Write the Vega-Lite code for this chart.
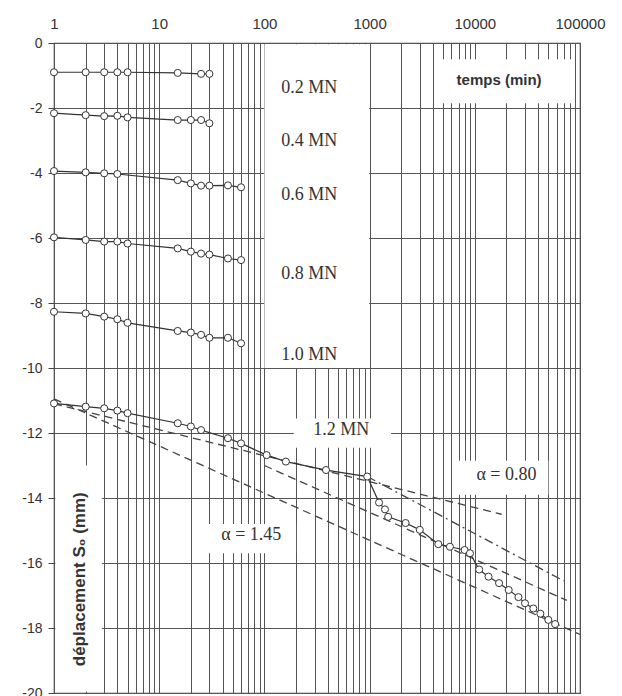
{
  "$schema": "https://vega.github.io/schema/vega-lite/v6.json",
  "width": 526,
  "height": 650,
  "autosize": {"type": "none"},
  "padding": {"left": 54, "top": 43, "right": 42, "bottom": 3},
  "background": "white",
  "config": {
    "view": {"stroke": "#444", "strokeWidth": 1.2},
    "axis": {"labelFont": "Liberation Sans", "labelColor": "#333", "labelFontSize": 14, "gridColor": "#555", "gridWidth": 1, "gridOpacity": 1, "domain": false}
  },
  "datasets": {
    "creep": [
      {"load": "0.2", "t": 1, "s": -0.9}, {"load": "0.2", "t": 2, "s": -0.9}, {"load": "0.2", "t": 3, "s": -0.9}, {"load": "0.2", "t": 4, "s": -0.9}, {"load": "0.2", "t": 5, "s": -0.9},
      {"load": "0.2", "t": 15, "s": -0.92}, {"load": "0.2", "t": 25, "s": -0.95}, {"load": "0.2", "t": 30, "s": -0.95},
      {"load": "0.4", "t": 1, "s": -2.16}, {"load": "0.4", "t": 2, "s": -2.22}, {"load": "0.4", "t": 3, "s": -2.25}, {"load": "0.4", "t": 4, "s": -2.24}, {"load": "0.4", "t": 5, "s": -2.29},
      {"load": "0.4", "t": 15, "s": -2.37}, {"load": "0.4", "t": 20, "s": -2.37}, {"load": "0.4", "t": 25, "s": -2.37}, {"load": "0.4", "t": 30, "s": -2.47},
      {"load": "0.6", "t": 1, "s": -3.94}, {"load": "0.6", "t": 2, "s": -3.98}, {"load": "0.6", "t": 3, "s": -4.01}, {"load": "0.6", "t": 4, "s": -4.03},
      {"load": "0.6", "t": 15, "s": -4.22}, {"load": "0.6", "t": 20, "s": -4.32}, {"load": "0.6", "t": 25, "s": -4.39}, {"load": "0.6", "t": 30, "s": -4.39}, {"load": "0.6", "t": 45, "s": -4.38}, {"load": "0.6", "t": 60, "s": -4.44},
      {"load": "0.8", "t": 1, "s": -5.98}, {"load": "0.8", "t": 2, "s": -6.06}, {"load": "0.8", "t": 3, "s": -6.11}, {"load": "0.8", "t": 4, "s": -6.11}, {"load": "0.8", "t": 5, "s": -6.17},
      {"load": "0.8", "t": 15, "s": -6.32}, {"load": "0.8", "t": 20, "s": -6.42}, {"load": "0.8", "t": 25, "s": -6.48}, {"load": "0.8", "t": 30, "s": -6.51}, {"load": "0.8", "t": 45, "s": -6.63}, {"load": "0.8", "t": 60, "s": -6.68},
      {"load": "1.0", "t": 1, "s": -8.27}, {"load": "1.0", "t": 2, "s": -8.32}, {"load": "1.0", "t": 3, "s": -8.42}, {"load": "1.0", "t": 4, "s": -8.5}, {"load": "1.0", "t": 5, "s": -8.61},
      {"load": "1.0", "t": 15, "s": -8.86}, {"load": "1.0", "t": 20, "s": -8.91}, {"load": "1.0", "t": 25, "s": -8.98}, {"load": "1.0", "t": 30, "s": -9.07}, {"load": "1.0", "t": 45, "s": -9.07}, {"load": "1.0", "t": 60, "s": -9.24},
      {"load": "1.2", "t": 1, "s": -11.09}, {"load": "1.2", "t": 2, "s": -11.19}, {"load": "1.2", "t": 3, "s": -11.24}, {"load": "1.2", "t": 4, "s": -11.31}, {"load": "1.2", "t": 5, "s": -11.39},
      {"load": "1.2", "t": 15, "s": -11.7}, {"load": "1.2", "t": 20, "s": -11.8}, {"load": "1.2", "t": 25, "s": -11.91}, {"load": "1.2", "t": 45, "s": -12.16}, {"load": "1.2", "t": 60, "s": -12.32},
      {"load": "1.2", "t": 105, "s": -12.68}, {"load": "1.2", "t": 160, "s": -12.88}, {"load": "1.2", "t": 385, "s": -13.14}, {"load": "1.2", "t": 950, "s": -13.34},
      {"load": "1.2", "t": 1230, "s": -14.14}, {"load": "1.2", "t": 1400, "s": -14.35}, {"load": "1.2", "t": 1500, "s": -14.58}, {"load": "1.2", "t": 2200, "s": -14.77}, {"load": "1.2", "t": 3000, "s": -14.98},
      {"load": "1.2", "t": 4500, "s": -15.42}, {"load": "1.2", "t": 5800, "s": -15.5}, {"load": "1.2", "t": 8000, "s": -15.6}, {"load": "1.2", "t": 9000, "s": -15.7},
      {"load": "1.2", "t": 11000, "s": -16.2}, {"load": "1.2", "t": 13500, "s": -16.42}, {"load": "1.2", "t": 17000, "s": -16.62}, {"load": "1.2", "t": 21000, "s": -16.83}, {"load": "1.2", "t": 26000, "s": -17.05},
      {"load": "1.2", "t": 30000, "s": -17.24}, {"load": "1.2", "t": 36000, "s": -17.4}, {"load": "1.2", "t": 42000, "s": -17.56}, {"load": "1.2", "t": 50000, "s": -17.75}, {"load": "1.2", "t": 58000, "s": -17.88}
    ],
    "fits": [
      {"id": "a080", "t": 1, "s": -11.1}, {"id": "a080", "t": 18000, "s": -14.5},
      {"id": "dd", "t": 950, "s": -13.34}, {"id": "dd", "t": 70000, "s": -16.55},
      {"id": "mid", "t": 100, "s": -13.0}, {"id": "mid", "t": 75000, "s": -17.15},
      {"id": "a145", "t": 1, "s": -10.95}, {"id": "a145", "t": 100000, "s": -18.2}
    ],
    "boxes": [
      {"t1": 100, "t2": 990, "s1": -0.04, "s2": -10.0},
      {"t1": 190, "t2": 1600, "s1": -11.55, "s2": -12.45},
      {"t1": 4500, "t2": 87000, "s1": -0.5, "s2": -1.85},
      {"t1": 6700, "t2": 50000, "s1": -12.85, "s2": -13.9},
      {"t1": 24, "t2": 200, "s1": -14.8, "s2": -15.7},
      {"t1": 1.03, "t2": 2.85, "s1": -13.0, "s2": -19.96}
    ],
    "labels": [
      {"txt": "0.2 MN", "t": 267, "s": -1.38},
      {"txt": "0.4 MN", "t": 267, "s": -3.0},
      {"txt": "0.6 MN", "t": 267, "s": -4.68},
      {"txt": "0.8 MN", "t": 267, "s": -7.1},
      {"txt": "1.0 MN", "t": 267, "s": -9.6},
      {"txt": "1.2 MN", "t": 537, "s": -11.9},
      {"txt": "α = 0.80", "t": 20000, "s": -13.3},
      {"txt": "α = 1.45", "t": 75, "s": -15.15}
    ]
  },
  "encoding": {
    "x": {"field": "t", "type": "quantitative", "scale": {"type": "log", "domain": [1, 100000], "nice": false}},
    "y": {"field": "s", "type": "quantitative", "scale": {"domain": [-20, 0], "nice": false, "zero": false}}
  },
  "layer": [
    {
      "data": {"name": "boxes"},
      "mark": {"type": "rect", "fill": "white", "stroke": null},
      "encoding": {
        "x": {"field": "t1", "type": "quantitative", "scale": {"type": "log", "domain": [1, 100000], "nice": false},
          "axis": {"orient": "top", "title": null, "values": [1,2,3,4,5,6,7,8,9,10,20,30,40,50,60,70,80,90,100,200,300,400,500,600,700,800,900,1000,2000,3000,4000,5000,6000,7000,8000,9000,10000,20000,30000,40000,50000,60000,70000,80000,90000,100000],
            "labelExpr": "indexof([1,10,100,1000,10000,100000], datum.value) >= 0 ? '' + datum.value : ''",
            "ticks": false, "grid": true, "labelPadding": 12, "labelFontSize": 15, "labelFlush": false, "labelOverlap": false, "labelBound": false}},
        "x2": {"field": "t2"},
        "y": {"field": "s1", "type": "quantitative", "scale": {"domain": [-20, 0], "nice": false, "zero": false},
          "axis": {"title": null, "values": [0,-2,-4,-6,-8,-10,-12,-14,-16,-18,-20], "labelExpr": "'' + datum.value", "grid": true, "ticks": true, "tickSize": 6, "tickColor": "#444", "labelPadding": 6}},
        "y2": {"field": "s2"}
      }
    },
    {
      "data": {"name": "fits"},
      "mark": {"type": "line", "color": "#444", "strokeWidth": 1.3},
      "encoding": {
        "detail": {"field": "id"},
        "strokeDash": {"field": "id", "type": "nominal", "scale": {"domain": ["a080", "dd", "mid", "a145"], "range": [[8, 5], [9, 4, 2, 4], [8, 5], [8, 5]]}, "legend": null}
      }
    },
    {
      "data": {"name": "creep"},
      "mark": {"type": "line", "color": "#333", "strokeWidth": 1.2},
      "encoding": {"detail": {"field": "load"}}
    },
    {
      "data": {"name": "creep"},
      "mark": {"type": "point", "shape": "circle", "filled": false, "fill": "white", "fillOpacity": 1, "stroke": "#333", "strokeWidth": 1, "size": 50, "opacity": 1}
    },
    {
      "data": {"name": "labels"},
      "mark": {"type": "text", "font": "Liberation Serif", "fontSize": 18, "color": "#333", "align": "center", "baseline": "middle"},
      "encoding": {"text": {"field": "txt"}}
    },
    {
      "data": {"values": [{"txt": "temps (min)", "t": 17000, "s": -1.15}]},
      "mark": {"type": "text", "font": "Liberation Sans", "fontWeight": "bold", "fontSize": 15, "color": "#333", "align": "center", "baseline": "middle"},
      "encoding": {"text": {"field": "txt"}}
    },
    {
      "data": {"values": [{"txt": "déplacement  S₀ (mm)", "t": 1.75, "s": -16.5}]},
      "mark": {"type": "text", "font": "Liberation Sans", "fontWeight": "bold", "fontSize": 17, "color": "#333", "align": "center", "baseline": "middle", "angle": 270},
      "encoding": {"text": {"field": "txt"}}
    }
  ]
}
